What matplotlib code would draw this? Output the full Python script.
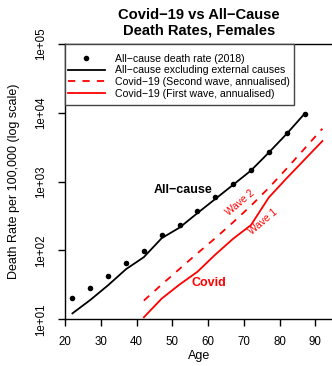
import matplotlib
matplotlib.use("Agg")
import matplotlib.pyplot as plt
from matplotlib.lines import Line2D
from matplotlib.patches import Rectangle

plt.rcParams['font.family'] = ['Liberation Sans', 'DejaVu Sans']

# All-cause death rates per 100,000 by age (females)
ages_all = [22, 27, 32, 37, 42, 47, 52, 57, 62, 67, 72, 77, 82, 87]
rate_all = [20.6, 28.6, 42.3, 66.7, 98.6, 167, 238, 377, 589, 923, 1489, 2699, 5035, 9730]
rate_excl = [12.2, 19.1, 31.3, 53.5, 80, 151, 215, 349, 560, 900, 1450, 2650, 4950, 9700]

# Covid-19 annualised death rates per 100,000
ages_covid = [42, 47, 52, 57, 62, 67, 72, 77, 82, 87, 92]
rate_wave2 = [18.7, 32, 54, 91, 151, 257, 447, 813, 1549, 3020, 5890]
rate_wave1 = [10.7, 20, 32, 49, 87, 148, 234, 589, 1122, 2089, 3890]

x_ticks = [20, 30, 40, 50, 60, 70, 80, 90]
y_ticks = [1e1, 1e2, 1e3, 1e4, 1e5]
y_tick_labels = ["1e+01", "1e+02", "1e+03", "1e+04", "1e+05"]

W, H = 332, 366
fig = plt.figure(figsize=(W / 100, H / 100), dpi=100)
ax = fig.add_axes([65.3 / W, 1 - 319.3 / H, (333.1 - 65.3) / W, (319.3 - 44) / H])

ax.plot(ages_all, rate_excl, color="black", lw=1.3)
ax.plot(ages_all, rate_all, "o", color="black", ms=4, mew=0)
ax.plot(ages_covid, rate_wave2, color="red", lw=1.3, dashes=(4, 4))
ax.plot(ages_covid, rate_wave1, color="red", lw=1.3)

ax.set_yscale("log")
ax.set_xlim(20, 95)
ax.set_ylim(10, 1e5)
ax.set_xticks(x_ticks)
ax.set_yticks(y_ticks)
ax.set_yticklabels(y_tick_labels, rotation=90, va="center")
ax.minorticks_off()
ax.tick_params(axis="both", direction="out", length=5, width=1, labelsize=8.3)
ax.tick_params(axis="x", pad=7)
ax.tick_params(axis="y", pad=8)
for s in ax.spines.values():
    s.set_linewidth(1)

ax.set_xlabel("Age", fontsize=9, labelpad=1.5)
ax.set_ylabel("Death Rate per 100,000 (log scale)", fontsize=9, labelpad=11)
ax.set_title("Covid\u221219 vs All\u2212Cause\nDeath Rates, Females",
             fontsize=10.6, fontweight="bold", linespacing=1.2, pad=6.5)

ax.text(53, 745, "All\u2212cause", fontsize=9, fontweight="bold", ha="center", va="center")
ax.text(60.2, 34, "Covid", fontsize=9, fontweight="bold", color="red", ha="center", va="center")
ax.text(68.9, 493, "Wave 2", fontsize=7.3, color="red", ha="center", va="center", rotation=40)
ax.text(75.4, 264, "Wave 1", fontsize=7.3, color="red", ha="center", va="center", rotation=40)

# legend box
ax.add_patch(Rectangle((0, 0.778), 0.854, 0.222, transform=ax.transAxes,
                       facecolor="white", edgecolor="#444444", lw=1, zorder=4, clip_on=False))

handles = [
    Line2D([], [], marker="o", ls="none", color="black", ms=4, mew=0),
    Line2D([], [], color="black", lw=1.3),
    Line2D([], [], color="red", lw=1.3, dashes=(4, 4)),
    Line2D([], [], color="red", lw=1.3),
]
labels = [
    "All\u2212cause death rate (2018)",
    "All\u2212cause excluding external causes",
    "Covid\u221219 (Second wave, annualised)",
    "Covid\u221219 (First wave, annualised)",
]
leg = ax.legend(handles, labels, loc="upper left", bbox_to_anchor=(0.010, 0.964), fontsize=7.6,
                frameon=False, borderaxespad=0, handlelength=3.5, handletextpad=0.95,
                labelspacing=0.15, borderpad=0)
leg.set_zorder(5)

fig.savefig("out.png", dpi=100)
